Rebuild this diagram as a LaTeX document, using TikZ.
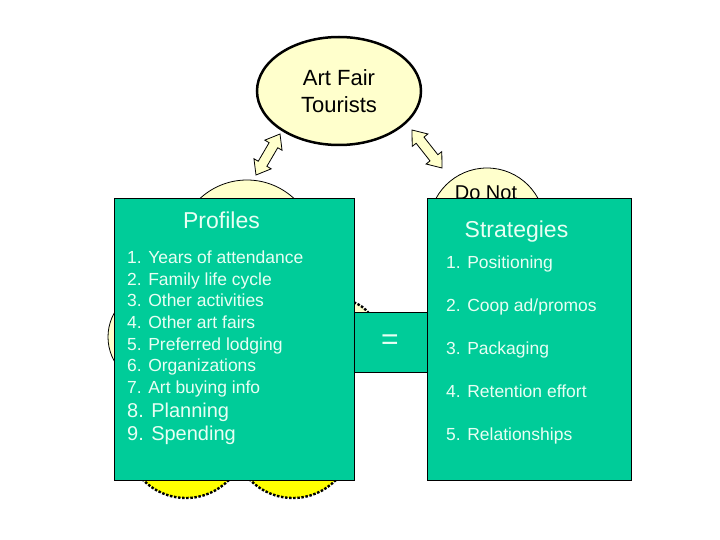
\documentclass[tikz,border=0pt]{standalone}
\usepackage{fontspec}
\setmainfont{Liberation Sans}
\usetikzlibrary{shapes.geometric,calc}
\definecolor{lightyel}{RGB}{255,255,204}
\definecolor{brightyel}{RGB}{255,255,0}
\definecolor{boxgreen}{RGB}{0,204,153}
\definecolor{boxtext}{RGB}{232,255,244}
\newcommand\fatarrow[2]{%
  \filldraw[arrowstyle]
    (#1) -- ($($(#1)!13pt!(#2)$)!10pt!90:(#2)$) -- ($($(#1)!13pt!(#2)$)!5pt!90:(#2)$)
    -- ($($(#2)!13pt!(#1)$)!5pt!-90:(#1)$) -- ($($(#2)!13pt!(#1)$)!10pt!-90:(#1)$)
    -- (#2) -- ($($(#2)!13pt!(#1)$)!10pt!90:(#1)$) -- ($($(#2)!13pt!(#1)$)!5pt!90:(#1)$)
    -- ($($(#1)!13pt!(#2)$)!5pt!-90:(#2)$) -- ($($(#1)!13pt!(#2)$)!10pt!-90:(#2)$) -- cycle;}
\tikzset{
  bubble/.style={circle, draw=black, line width=0.8pt, fill=lightyel, inner sep=0pt},
  dotbubble/.style={circle, draw=black, line width=2.4pt, dash pattern=on 2.5pt off 1.6pt, inner sep=0pt},
  arrowstyle/.style={draw=black, line width=0.8pt, fill=lightyel, line join=miter},
  greenbox/.style={rectangle, draw=black, line width=0.8pt, fill=boxgreen, inner sep=0pt},
  boxtitle/.style={anchor=base, text=boxtext, inner sep=0pt, font=\fontsize{23}{27}\selectfont},
  item/.style={anchor=base west, text=boxtext, inner sep=0pt, font=\fontsize{17.5}{21}\selectfont},
  bigitem/.style={anchor=base west, text=boxtext, inner sep=0pt, font=\fontsize{20}{24}\selectfont},
}
\begin{document}
\begin{tikzpicture}[x=1pt,y=-1pt]
\useasboundingbox (0,0) rectangle (720,540);
% background bubbles
\node[bubble, minimum size=138pt] (cprof) at (247,249) {};
\node[bubble, minimum size=116pt] (cdonot) at (487,226) {};
\node[anchor=base, inner sep=0pt, font=\fontsize{20}{24}\selectfont] (tdonot) at (486,200) {Do Not};
\node[bubble, minimum size=98pt] (cleft) at (157,337) {};
\node[dotbubble, fill=brightyel, minimum size=120pt] (cbl) at (186,438) {};
\node[dotbubble, fill=brightyel, minimum size=120pt] (cbr) at (293,438) {};
\node[dotbubble, fill=lightyel, minimum size=72pt] (cmid) at (341,336) {};
% top ellipse
\node[ellipse, draw=black, line width=2.5pt, fill=lightyel, inner sep=0pt,
      minimum width=164pt, minimum height=108pt, align=center,
      font=\fontsize{22}{27}\selectfont] (tour) at (339,91) {Art Fair\\Tourists};
% double arrows
\coordinate (a1t) at (280,134);
\coordinate (a1b) at (256,175);
\coordinate (a2t) at (412,130);
\coordinate (a2b) at (442,168);
\fatarrow{a1t}{a1b}
\fatarrow{a2t}{a2b}
% boxes
\node[greenbox, minimum width=73pt, minimum height=60pt] (eqbox) at (390.5,342) {};
\node[anchor=center, text=boxtext, inner sep=0pt, font=\fontsize{30}{34}\selectfont] (eq) at (390,342) {=};
\node[greenbox, minimum width=240pt, minimum height=282pt] (prof) at (234,339) {};
\node[greenbox, minimum width=204pt, minimum height=282pt] (strat) at (529,339) {};
% profiles text
\node[boxtitle] (ptitle) at (221.5,229) {Profiles};
\node[item] (p1) at (127,263) {1. Years of attendance};
\node[item] (p2) at (127,285) {2. Family life cycle};
\node[item] (p3) at (127,306) {3. Other activities};
\node[item] (p4) at (127,328) {4. Other art fairs};
\node[item] (p5) at (127,350) {5. Preferred lodging};
\node[item] (p6) at (127,371) {6. Organizations};
\node[item] (p7) at (127,393) {7. Art buying info};
\node[bigitem] (p8) at (127,417) {8. Planning};
\node[bigitem] (p9) at (127,440) {9. Spending};
% strategies text
\node[boxtitle] (stitle) at (516.5,237) {Strategies};
\node[item] (s1) at (446,268) {1. Positioning};
\node[item] (s2) at (446,311) {2. Coop ad/promos};
\node[item] (s3) at (446,354) {3. Packaging};
\node[item] (s4) at (446,397) {4. Retention effort};
\node[item] (s5) at (446,440) {5. Relationships};
\end{tikzpicture}
\end{document}
